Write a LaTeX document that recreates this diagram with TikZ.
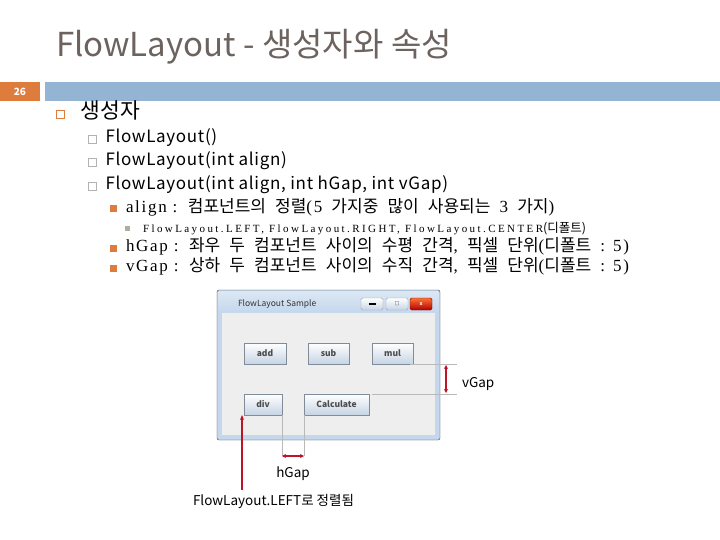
\documentclass[tikz,border=0pt]{standalone}
\usepackage{fontspec}
\setmainfont{Noto Sans CJK KR}
\newfontfamily\wide{Noto Sans CJK KR}[LetterSpace=4]
\newfontfamily\gul{Noto Sans CJK KR}[WordSpace=2.4]
\newfontfamily\lser{Liberation Serif}[LetterSpace=10]
\newfontfamily\lserw{Liberation Serif}[LetterSpace=22]
\usetikzlibrary{positioning, arrows.meta}
\definecolor{titlegray}{RGB}{108,98,94}
\definecolor{slideorange}{RGB}{222,124,62}
\definecolor{barblue}{RGB}{148,180,212}
\definecolor{frameblue}{RGB}{196,215,236}
\definecolor{clientgray}{RGB}{238,238,238}
\definecolor{btnedge}{RGB}{128,140,152}
\definecolor{btnblue}{RGB}{198,212,228}
\definecolor{gapred}{RGB}{190,20,40}
\definecolor{subgray}{RGB}{170,175,160}
\newcommand{\ls}[1]{{\lser #1}} % latin words of the gulim lines
\tikzset{
	every node/.style={inner sep=0pt, outer sep=0pt}, % tight boxes
	lvlone/.style={draw=slideorange, line width=0.8pt, minimum size=8pt}, % first level bullet
	lvltwo/.style={draw=gray!60, line width=0.6pt, minimum size=8pt}, % second level bullet
	lvlthree/.style={fill=slideorange, minimum size=7pt}, % third level bullet
	lvlfour/.style={fill=subgray, minimum size=5pt}, % fourth level bullet
	item/.style={anchor=west, text height=0.8em, text depth=0.08em}, % text after a bullet
	jbtn/.style={draw=btnedge, top color=white, bottom color=btnblue, minimum height=21pt, font=\fontsize{8.5}{8.5}\selectfont\bfseries, text=black!70}, % java button
	tbtn/.style={draw=btnedge!80, top color=white, bottom color=btnblue, minimum width=22pt, minimum height=12pt, rounded corners=1.5pt, anchor=north west, font=\tiny}, % title bar button
	gapline/.style={draw=gray!55, line width=0.6pt}, % guide line
	gaparrow/.style={draw=gapred, line width=1.5pt, {Stealth[length=4pt,width=4pt]}-{Stealth[length=4pt,width=4pt]}}, % gap measure
	leftarrow/.style={draw=gapred, line width=1.5pt, -{Stealth[length=5pt,width=4pt]}}, % alignment pointer
	note/.style={font=\fontsize{13.5}{13.5}\selectfont}, % labels round the window
}
\begin{document}
\begin{tikzpicture}[x=1pt, y=-1pt]
	\useasboundingbox (0,0) rectangle (720,540);
	% header
	\node[anchor=base west, text=titlegray, font=\fontsize{33}{33}\selectfont] (title) at (56,57) {FlowLayout - 생성자와 속성};
	\node[fill=slideorange, minimum width=40pt, minimum height=19pt, anchor=north west, text=white, font=\fontsize{10}{10}\selectfont\bfseries] (page) at (0,82) {26};
	\node[fill=barblue, minimum width=675pt, minimum height=19pt, anchor=north west] (bar) at (45,82) {};
	
	% bullets
	\node[lvlone] (b1) at (60.5,114.5) {};
	\node[item, right=16pt of b1, font=\fontsize{21.5}{21.5}\selectfont] (t1) {생성자};
	\node[lvltwo] (b2) at (92.5,139) {};
	\node[item, right=9pt of b2, font=\fontsize{17}{17}\selectfont\wide] (t2) {FlowLayout()};
	\node[lvltwo] (b3) at (92.5,162) {};
	\node[item, right=9pt of b3, font=\fontsize{17}{17}\selectfont\wide] (t3) {FlowLayout(int align)};
	\node[lvltwo] (b4) at (92.5,186) {};
	\node[item, right=9pt of b4, font=\fontsize{17}{17}\selectfont\wide] (t4) {FlowLayout(int align, int hGap, int vGap)};
	\node[lvlthree] (b5) at (113.5,209) {};
	\node[item, right=9pt of b5, font=\fontsize{17}{17}\selectfont\gul] (t5) {\ls{align :} 컴포넌트의 정렬\ls{(5} 가지중 많이 사용되는 \ls{3} 가지\ls{)}};
	\node[lvlfour] (b6) at (127.5,229) {};
	\node[item, right=13pt of b6, font=\fontsize{11}{11}\selectfont\gul] (t6) {{\lserw FlowLayout.LEFT, FlowLayout.RIGHT, FlowLayout.CENTER}{\fontsize{12.5}{12.5}\selectfont(디폴트)}};
	\node[lvlthree] (b7) at (113.5,248) {};
	\node[item, right=9pt of b7, font=\fontsize{17}{17}\selectfont\gul] (t7) {\ls{hGap :} 좌우 두 컴포넌트 사이의 수평 간격\ls{,} 픽셀 단위\ls{(}디폴트 \ls{: 5)}};
	\node[lvlthree] (b8) at (113.5,268) {};
	\node[item, right=9pt of b8, font=\fontsize{17}{17}\selectfont\gul] (t8) {\ls{vGap :} 상하 두 컴포넌트 사이의 수직 간격\ls{,} 픽셀 단위\ls{(}디폴트 \ls{: 5)}};
	
	% window
	\node[draw=black!75, fill=frameblue, rounded corners=2pt, minimum width=223pt, minimum height=150pt, anchor=north west] (win) at (217,290) {};
	\node[top color=frameblue!60!white, bottom color=frameblue, minimum width=221pt, minimum height=22pt, anchor=north west, rounded corners=2pt] (bar2) at (218,291) {};
	\node[fill=clientgray, minimum width=213pt, minimum height=122pt, anchor=north west] (client) at (222,313) {};
	\node[anchor=west, font=\fontsize{8.5}{8.5}\selectfont, text=black!80] (wtitle) at (238,304) {FlowLayout Sample};
	\node[tbtn] (wmin) at (361,298) {\rule[-1pt]{7pt}{1.2pt}};
	\node[tbtn, right=3pt of wmin] (wmax) {□};
	\node[tbtn, right=2pt of wmax, draw=red!50!black, top color=red!40!orange!80, bottom color=red!70!black, text=white] (wclose) {\bfseries x};
	
	% buttons
	\node[jbtn, minimum width=42pt, anchor=north west] (add) at (244,343) {add};
	\node[jbtn, minimum width=41pt, right=22pt of add] (sub) {sub};
	\node[jbtn, minimum width=41pt, right=23pt of sub] (mul) {mul};
	\node[jbtn, minimum width=38pt, anchor=north west] (div) at (244,394) {div};
	\node[jbtn, minimum width=65pt, right=22pt of div] (calc) {Calculate};
	
	% vGap
	\coordinate (vg1) at (457,364);
	\coordinate (vg2) at (457,394);
	\coordinate (vgtop) at (446,365);
	\coordinate (vgbot) at (446,393);
	\draw[gapline] ([xshift=-3pt]mul.south east) -- (vg1);
	\draw[gapline] ([xshift=3pt]calc.north east) -- (vg2);
	\draw[gaparrow] (vgtop) -- (vgbot);
	\node[note, anchor=west] (vgap) at (462,384) {vGap};
	
	% hGap
	\coordinate (hgleft) at (282,456);
	\coordinate (hgright) at (304,456);
	\draw[gapline] (div.south east) -- (hgleft);
	\draw[gapline] (calc.south west) -- (hgright);
	\draw[gaparrow] (hgleft) -- (hgright);
	\node[note] (hgap) at (293,474) {hGap};
	
	% left alignment
	\coordinate (leftfoot) at (242,490);
	\draw[leftarrow] (leftfoot) -- (leftfoot |- div.south);
	\node[note, anchor=west] (leftnote) at (193,501) {FlowLayout.LEFT로 정렬됨};
\end{tikzpicture}
\end{document}
